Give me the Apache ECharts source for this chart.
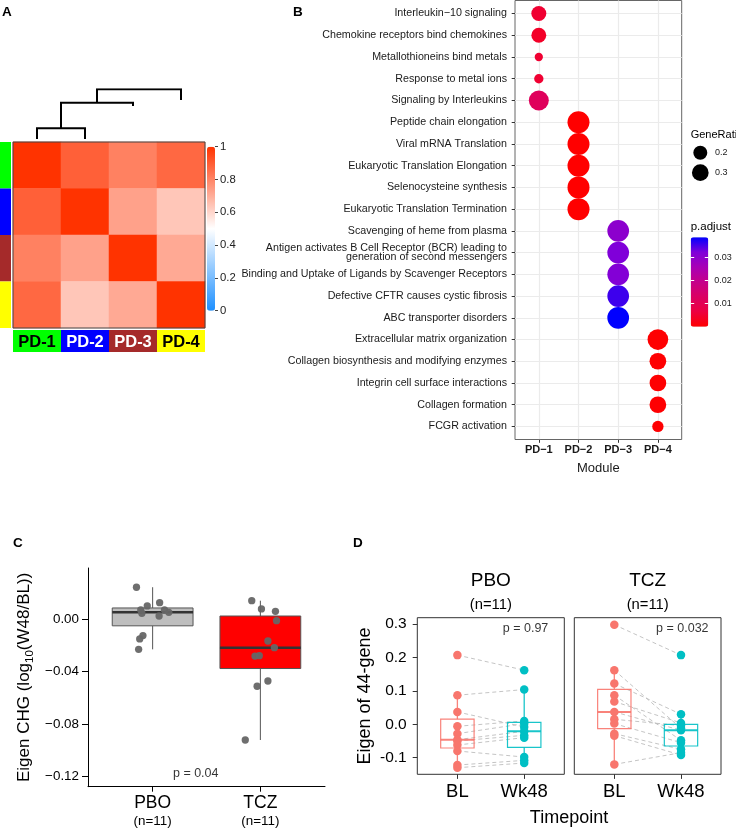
<!DOCTYPE html>
<html><head><meta charset="utf-8">
<script src="https://cdn.jsdelivr.net/npm/echarts@6.0.0/dist/echarts.min.js"></script>
<style>html,body{margin:0;padding:0;background:#fff}#c{width:736px;height:829px}</style>
</head><body><div id="c"></div>
<script>
// ================= DATA =================
// Panel A : module correlation heatmap
const modules = ['PD-1', 'PD-2', 'PD-3', 'PD-4'];
const corrPD1 = [1.00, 0.89, 0.81, 0.87];
const corrPD2 = [0.89, 1.00, 0.73, 0.64];
const corrPD3 = [0.81, 0.73, 1.00, 0.71];
const corrPD4 = [0.87, 0.64, 0.71, 1.00];
const corrTicks = [0, 0.2, 0.4, 0.6, 0.8, 1];
const dendroMerges = [[0, 1], [4, 2], [5, 3]];
const dendroHeights = [0.215, 0.73, 1.0];
const dendroLeafEnds = [0, 0, 0.664, 0.785];

// Panel B : pathway enrichment dot plot
const pathways = [
  'Interleukin\u221210 signaling',
  'Chemokine receptors bind chemokines',
  'Metallothioneins bind metals',
  'Response to metal ions',
  'Signaling by Interleukins',
  'Peptide chain elongation',
  'Viral mRNA Translation',
  'Eukaryotic Translation Elongation',
  'Selenocysteine synthesis',
  'Eukaryotic Translation Termination',
  'Scavenging of heme from plasma',
  'Antigen activates B Cell Receptor (BCR) leading to\ngeneration of second messengers',
  'Binding and Uptake of Ligands by Scavenger Receptors',
  'Defective CFTR causes cystic fibrosis',
  'ABC transporter disorders',
  'Extracellular matrix organization',
  'Collagen biosynthesis and modifying enzymes',
  'Integrin cell surface interactions',
  'Collagen formation',
  'FCGR activation'
];
const pathwayModule = [1,1,1,1,1, 2,2,2,2,2, 3,3,3,3,3, 4,4,4,4,4];
const geneRatio = [0.233,0.228,0.115,0.118,0.473, 0.606,0.606,0.606,0.606,0.606, 0.585,0.585,0.585,0.585,0.585, 0.518,0.300,0.300,0.300,0.139];
const pAdjust = [0.005,0.004,0.005,0.005,0.0115, 0.00001,0.00001,0.00001,0.00001,0.00001, 0.030,0.032,0.0315,0.0354,0.0385, 0.0002,0.0002,0.0002,0.0002,0.0002];
const moduleAxisLabels = ['PD\u22121', 'PD\u22122', 'PD\u22123', 'PD\u22124'];
const geneRatioBreaks = [0.2, 0.3];
const pAdjustBreaks = [0.01, 0.02, 0.03];

// Panel C : Eigen CHG change
const groupsC = ['PBO', 'TCZ'];
const chgPBO = [0.0245, 0.0127, 0.0102, 0.0071, 0.0071, 0.0053, 0.0046, 0.0025, -0.0125, -0.0150, -0.0230];
const jitterPBO = [-0.15, 0.065, -0.05, -0.11, 0.11, 0.15, -0.10, 0.06, -0.09, -0.12, -0.13];
const chgTCZ = [0.0142, 0.0079, 0.0061, -0.0011, -0.0166, -0.0217, -0.0281, -0.0278, -0.0472, -0.0512, -0.0923];
const jitterTCZ = [-0.08, 0.01, 0.14, 0.15, 0.07, 0.13, -0.05, -0.01, 0.07, -0.03, -0.14];
const ticksC = [-0.12, -0.08, -0.04, 0.00];
const pValueC = 'p = 0.04';

// Panel D : 44-gene eigen, paired
const timepoints = ['BL', 'Wk48'];
const eigenPBO_BL   = [0.207, 0.087, 0.037, -0.006, -0.028, -0.046, -0.050, -0.062, -0.080, -0.122, -0.130];
const eigenPBO_Wk48 = [0.162, 0.104, -0.008, 0.010, 0.002, -0.021, -0.033, -0.040, -0.098, -0.108, -0.116];
const eigenTCZ_BL   = [0.298, 0.162, 0.122, 0.087, 0.068, 0.037, 0.015, 0.002, -0.028, -0.034, -0.120];
const eigenTCZ_Wk48 = [0.207, -0.012, 0.030, -0.048, 0.004, -0.018, -0.004, -0.055, -0.075, -0.092, -0.085];
const ticksD = [-0.1, 0.0, 0.1, 0.2, 0.3];
const pValuePBO = 'p = 0.97';
const pValueTCZ = 'p = 0.032';

// ================= STYLE =================
const FONT = "'Liberation Sans', Arial, Helvetica, sans-serif";
const moduleFill = ['#00ff00', '#0000ff', '#a52a2a', '#ffff00'];
const moduleTextColor = ['#000000', '#ffffff', '#ffffff', '#000000'];
const padjColors = ['#ff0000', '#ec0040', '#db0062', '#c5008a', '#a800b5', '#7f00d9', '#0000ff'];
const tpColors = ['#f8766d', '#00bfc4'];
function sizeFn(r) { return 2.76 * (3 + 5 * Math.sqrt(Math.max(0, (r - 0.115) / 0.497))); }

// ================= HELPERS =================
function quantile(s, p) { const h = (s.length - 1) * p, lo = Math.floor(h), hi = Math.ceil(h); return s[lo] + (s[hi] - s[lo]) * (h - lo); }
function boxStats(arr) {
  const s = arr.slice().sort((a, b) => a - b);
  const q1 = quantile(s, 0.25), med = quantile(s, 0.5), q3 = quantile(s, 0.75), iqr = q3 - q1;
  const lo = Math.min.apply(null, s.filter(v => v >= q1 - 1.5 * iqr));
  const hi = Math.max.apply(null, s.filter(v => v <= q3 + 1.5 * iqr));
  return [lo, q1, med, q3, hi];
}
function txt(text, x, y, size, opts) {
  opts = opts || {};
  return { type: 'text', x: 0, y: 0, silent: true, z: 100, style: Object.assign({
    text: text, x: x, y: y, fontSize: size, fontFamily: FONT, fontWeight: opts.bold ? 'bold' : 'normal',
    fill: opts.color || '#000', align: opts.align || 'left', verticalAlign: 'middle',
    textAlign: opts.align || 'left', textVerticalAlign: 'middle' }, {}) };
}
function boxRenderer(boxW, styleFn) {
  return function (params, api) {
    const x = api.value(0);
    const pLo = api.coord([x, api.value(1)]), pQ1 = api.coord([x, api.value(2)]), pMed = api.coord([x, api.value(3)]);
    const pQ3 = api.coord([x, api.value(4)]), pHi = api.coord([x, api.value(5)]);
    const half = api.size([boxW, 0])[0] / 2;
    const s = styleFn(params.dataIndex);
    return { type: 'group', children: [
      { type: 'line', shape: { x1: pQ3[0], y1: pQ3[1], x2: pHi[0], y2: pHi[1] }, style: { stroke: s.whisker, lineWidth: s.ww, opacity: s.op } },
      { type: 'line', shape: { x1: pQ1[0], y1: pQ1[1], x2: pLo[0], y2: pLo[1] }, style: { stroke: s.whisker, lineWidth: s.ww, opacity: s.op } },
      { type: 'rect', shape: { x: pQ3[0] - half, y: pQ3[1], width: 2 * half, height: pQ1[1] - pQ3[1] }, style: { fill: s.fill, stroke: s.stroke, lineWidth: s.bw, strokeOpacity: s.op } },
      { type: 'line', shape: { x1: pMed[0] - half, y1: pMed[1], x2: pMed[0] + half, y2: pMed[1] }, style: { stroke: s.median, lineWidth: s.mw, opacity: s.op } }
    ]};
  };
}

const grid = [], xAxis = [], yAxis = [], series = [], graphic = [];
const addGrid = g => (grid.push(g), grid.length - 1);
const addX = a => (xAxis.push(a), xAxis.length - 1);
const addY = a => (yAxis.push(a), yAxis.length - 1);
const addS = s => (series.push(s), series.length - 1);
const hv = (gi, min, max, extra) => Object.assign({ type: 'value', gridIndex: gi, min: min, max: max, show: false }, extra || {});

// ================= PANEL A =================
const gA = addGrid({ left: 13, top: 142, width: 192, height: 186, show: true, borderColor: '#444', borderWidth: 1, backgroundColor: 'transparent', z: 10 });
const xA = addX({ type: 'category', gridIndex: gA, data: modules, show: false });
const yA = addY({ type: 'category', gridIndex: gA, data: modules, inverse: true, show: false });
const heatData = [];
[corrPD1, corrPD2, corrPD3, corrPD4].forEach((row, r) => row.forEach((v, c) => heatData.push([c, r, v])));
const sHeat = addS({ type: 'heatmap', xAxisIndex: xA, yAxisIndex: yA, data: heatData, itemStyle: { borderWidth: 0 }, emphasis: { disabled: true } });

// dendrogram
const gDen = addGrid({ left: 13, top: 89.3, width: 192, height: 49.7 });
const xDen = addX(hv(gDen, -0.5, 3.5)); const yDen = addY(hv(gDen, 0, 1));
const nodeX = [0, 1, 2, 3], nodeH = dendroLeafEnds.slice(), dendroPaths = [];
dendroMerges.forEach((m, i) => {
  const h = dendroHeights[i], a = m[0], b = m[1];
  dendroPaths.push({ coords: [[nodeX[a], nodeH[a]], [nodeX[a], h], [nodeX[b], h], [nodeX[b], nodeH[b]]] });
  nodeX.push((nodeX[a] + nodeX[b]) / 2); nodeH.push(h);
});
addS({ type: 'lines', coordinateSystem: 'cartesian2d', xAxisIndex: xDen, yAxisIndex: yDen, polyline: true, silent: true,
  data: dendroPaths, lineStyle: { color: '#000', width: 2, opacity: 1 } });

// left row annotation
const gL = addGrid({ left: 0, top: 142, width: 11, height: 186 });
const xL = addX(hv(gL, 0, 1)); const yL = addY(hv(gL, -0.5, 3.5, { inverse: true }));
addS({ type: 'custom', xAxisIndex: xL, yAxisIndex: yL, silent: true, data: modules.map((m, i) => [0.5, i]), encode: { x: 0, y: 1 },
  renderItem: (params, api) => { const i = api.value(1); const p0 = api.coord([0, i - 0.5]), p1 = api.coord([1, i + 0.5]);
    return { type: 'rect', shape: { x: p0[0], y: p0[1], width: p1[0] - p0[0], height: p1[1] - p0[1] }, style: { fill: moduleFill[i] } }; } });

// bottom column annotation with labels
const gBt = addGrid({ left: 13, top: 330, width: 192, height: 22 });
const xBt = addX(hv(gBt, -0.5, 3.5)); const yBt = addY(hv(gBt, 0, 1));
addS({ type: 'custom', xAxisIndex: xBt, yAxisIndex: yBt, silent: true, data: modules.map((m, i) => [i, 0.5]), encode: { x: 0, y: 1 },
  renderItem: (params, api) => { const i = api.value(0); const p0 = api.coord([i - 0.5, 1]), p1 = api.coord([i + 0.5, 0]), pc = api.coord([i, 0.5]);
    return { type: 'group', children: [
      { type: 'rect', shape: { x: p0[0], y: p0[1], width: p1[0] - p0[0], height: p1[1] - p0[1] }, style: { fill: moduleFill[i] } },
      { type: 'text', style: { text: modules[i], x: pc[0], y: pc[1] + 1, fill: moduleTextColor[i], fontSize: 16.5, fontWeight: 'bold', fontFamily: FONT,
        align: 'center', verticalAlign: 'middle', textAlign: 'center', textVerticalAlign: 'middle' } }
    ]}; } });

// colorbar axis A
const gCA = addGrid({ left: 207, top: 146.7, width: 8, height: 164 });
addX(hv(gCA, 0, 1));
addY({ type: 'value', gridIndex: gCA, position: 'right', min: 0, max: 1, interval: 0.2, z: 10,
  axisLine: { show: false, onZero: false }, splitLine: { show: false },
  axisTick: { show: true, inside: false, length: 3, lineStyle: { color: '#444' } },
  axisLabel: { margin: 5, fontSize: 11.3, color: '#222', fontFamily: FONT, formatter: v => (v === 0 ? '0' : v === 1 ? '1' : (+v.toFixed(1)).toString()) } });

// ================= PANEL B =================
const gB = addGrid({ left: 515, top: 0.5, width: 166.7, height: 439, show: true, borderColor: '#666', borderWidth: 1, backgroundColor: '#fff' });
const xB = addX({ type: 'value', gridIndex: gB, min: 0.4, max: 4.6,
  axisLine: { show: false, onZero: false },
  axisTick: { show: true, customValues: moduleAxisLabels.map((m, i) => i + 1), length: 3.3, lineStyle: { color: '#333' } },
  axisLabel: { customValues: moduleAxisLabels.map((m, i) => i + 1), formatter: v => moduleAxisLabels[Math.round(v) - 1], fontSize: 11, fontWeight: 'bold', color: '#1a1a1a', margin: 5, fontFamily: FONT },
  splitLine: { show: true, lineStyle: { color: '#ebebeb', width: 1.2 } },
  name: 'Module', nameLocation: 'middle', nameGap: 22, nameTextStyle: { fontSize: 13, color: '#1a1a1a', fontFamily: FONT } });
const yB = addY({ type: 'value', gridIndex: gB, min: 0.4, max: 20.6, inverse: true,
  axisLine: { show: false, onZero: false },
  axisTick: { show: true, customValues: pathways.map((p, i) => i + 1), length: 3.3, lineStyle: { color: '#333' } },
  axisLabel: { customValues: pathways.map((p, i) => i + 1), formatter: v => pathways[Math.round(v) - 1], fontSize: 10.7, lineHeight: 9.6, color: '#1a1a1a', margin: 8, fontFamily: FONT, align: 'right' },
  splitLine: { show: true, lineStyle: { color: '#ebebeb', width: 1.2 } } });
const sDot = addS({ type: 'scatter', xAxisIndex: xB, yAxisIndex: yB, encode: { x: 0, y: 1 },
  data: pathways.map((p, i) => [pathwayModule[i], i + 1, geneRatio[i], pAdjust[i]]),
  symbolSize: v => sizeFn(v[2]), itemStyle: { opacity: 1 } });

// size legend
const gSL = addGrid({ left: 690.3, top: 152.7, width: 20, height: 20 });
const xSL = addX(hv(gSL, -1, 1)); const ySL = addY(hv(gSL, 0, 1, { inverse: true }));
addS({ type: 'scatter', xAxisIndex: xSL, yAxisIndex: ySL, silent: true, encode: { x: 0, y: 1 },
  data: geneRatioBreaks.map((r, i) => [0, i, r]), symbolSize: v => sizeFn(v[2]), itemStyle: { color: '#000', opacity: 1 },
  label: { show: true, position: 'inside', align: 'left', offset: [14.7, 0], formatter: p => String(p.value[2]), fontSize: 9, color: '#1a1a1a', fontFamily: FONT } });

// p.adjust colorbar axis
const gPA = addGrid({ left: 690.7, top: 237.3, width: 17.6, height: 89.4 });
addX(hv(gPA, 0, 1));
addY({ type: 'value', gridIndex: gPA, position: 'right', min: 0, max: 0.0385, z: 10,
  axisLine: { show: false, onZero: false }, splitLine: { show: false },
  axisTick: { show: true, inside: true, length: 3.5, customValues: pAdjustBreaks, lineStyle: { color: '#fff', width: 1 } },
  axisLabel: { customValues: pAdjustBreaks, formatter: v => v.toFixed(2), fontSize: 9, margin: 6, color: '#1a1a1a', fontFamily: FONT } });
addY({ type: 'value', gridIndex: gPA, position: 'left', min: 0, max: 0.0385, z: 10,
  axisLine: { show: false, onZero: false }, splitLine: { show: false },
  axisTick: { show: true, inside: true, length: 3.5, customValues: pAdjustBreaks, lineStyle: { color: '#fff', width: 1 } },
  axisLabel: { show: false } });

// ================= PANEL C =================
const gC = addGrid({ left: 88, top: 568, width: 237, height: 218.7 });
const nC = [chgPBO.length, chgTCZ.length];
const xC = addX({ type: 'value', gridIndex: gC, min: 0.4, max: 2.6,
  axisLine: { show: true, onZero: false, lineStyle: { color: '#000', width: 1 } },
  axisTick: { show: true, customValues: [1, 2], length: 5, lineStyle: { color: '#000' } },
  axisLabel: { customValues: [1, 2], margin: 7,
    formatter: v => '{a|' + groupsC[Math.round(v) - 1] + '}\n{b|(n=' + nC[Math.round(v) - 1] + ')}',
    rich: { a: { fontSize: 17.5, lineHeight: 18.4, color: '#000', fontFamily: FONT }, b: { fontSize: 13.4, lineHeight: 18.4, color: '#000', fontFamily: FONT } } },
  splitLine: { show: false } });
const yC = addY({ type: 'value', gridIndex: gC, min: -0.128, max: 0.0392,
  axisLine: { show: true, onZero: false, lineStyle: { color: '#000', width: 1 } },
  axisTick: { show: true, customValues: ticksC, length: 6, lineStyle: { color: '#000' } },
  axisLabel: { customValues: ticksC, margin: 9, fontSize: 13.4, color: '#000', fontFamily: FONT,
    formatter: v => (v < -1e-9 ? '\u2212' : '') + Math.abs(v).toFixed(2) },
  splitLine: { show: false },
  name: '{a|Eigen CHG (log}{s|10}{a|(W48/BL))}', nameLocation: 'middle', nameGap: 52,
  nameTextStyle: { fontFamily: FONT, color: '#000', rich: {
    a: { fontSize: 17, lineHeight: 24, verticalAlign: 'middle', color: '#000', fontFamily: FONT },
    s: { fontSize: 11.5, lineHeight: 12, verticalAlign: 'bottom', color: '#000', fontFamily: FONT } } } });
const cFills = ['#bebebe', '#ff0000'];
addS({ type: 'custom', xAxisIndex: xC, yAxisIndex: yC, silent: true, encode: { x: 0, y: [1, 2, 3, 4, 5] },
  data: [[1].concat(boxStats(chgPBO)), [2].concat(boxStats(chgTCZ))],
  renderItem: boxRenderer(0.75, i => ({ fill: cFills[i], stroke: '#555', bw: 1, whisker: '#555', ww: 1, median: '#333', mw: 2.5, op: 1 })) });
addS({ type: 'scatter', xAxisIndex: xC, yAxisIndex: yC, silent: true, symbolSize: 7.3, itemStyle: { color: '#666', opacity: 0.95 },
  data: chgPBO.map((v, i) => [1 + jitterPBO[i], v]).concat(chgTCZ.map((v, i) => [2 + jitterTCZ[i], v])), z: 5 });
addS({ type: 'scatter', xAxisIndex: xC, yAxisIndex: yC, silent: true, symbolSize: 1, itemStyle: { color: 'transparent' },
  data: [[1.4, -0.118]], label: { show: true, position: 'inside', formatter: pValueC, fontSize: 12.5, color: '#000', fontFamily: FONT } });

// ================= PANEL D =================
function facetD(left, width, bl, wk, pText, showY) {
  const g = addGrid({ left: left, top: 617.7, width: width, height: 156.6, show: true, borderColor: '#333', borderWidth: 1, backgroundColor: 'transparent' });
  const x = addX({ type: 'value', gridIndex: g, min: -0.6, max: 1.6,
    axisLine: { show: false, onZero: false },
    axisTick: { show: true, customValues: [0, 1], length: 4.6, lineStyle: { color: '#333' } },
    axisLabel: { customValues: [0, 1], formatter: v => timepoints[Math.round(v)], fontSize: 18.5, color: '#000', margin: 8, fontFamily: FONT },
    splitLine: { show: false } });
  const yOpt = { type: 'value', gridIndex: g, min: -0.1497, max: 0.319, axisLine: { show: false, onZero: false }, splitLine: { show: false } };
  if (showY) {
    Object.assign(yOpt, {
      axisTick: { show: true, customValues: ticksD, length: 4.6, lineStyle: { color: '#333' } },
      axisLabel: { customValues: ticksD, formatter: v => (Math.abs(v) < 1e-9 ? '0.0' : v.toFixed(1)), fontSize: 15.5, color: '#000', margin: 10.6, fontFamily: FONT },
      name: 'Eigen of 44-gene', nameLocation: 'middle', nameGap: 43, nameTextStyle: { fontSize: 18, color: '#000', fontFamily: FONT } });
  } else {
    Object.assign(yOpt, { axisTick: { show: false }, axisLabel: { show: false } });
  }
  const y = addY(yOpt);
  addS({ type: 'lines', coordinateSystem: 'cartesian2d', xAxisIndex: x, yAxisIndex: y, silent: true,
    data: bl.map((b, i) => ({ coords: [[0, b], [1, wk[i]]] })),
    lineStyle: { color: '#bdbdbd', width: 0.9, type: [4, 3], opacity: 1 } });
  addS({ type: 'custom', xAxisIndex: x, yAxisIndex: y, silent: true, encode: { x: 0, y: [1, 2, 3, 4, 5] },
    data: [[0].concat(boxStats(bl)), [1].concat(boxStats(wk))],
    renderItem: boxRenderer(0.5, i => ({ fill: 'transparent', stroke: tpColors[i], bw: 1.2, whisker: tpColors[i], ww: 1.3, median: tpColors[i], mw: 2, op: 0.9 })) });
  [bl, wk].forEach((arr, k) => addS({ type: 'scatter', xAxisIndex: x, yAxisIndex: y, silent: true, symbolSize: 8.5,
    itemStyle: { color: tpColors[k], opacity: 1 }, data: arr.map(v => [k, v]), z: 5 }));
  addS({ type: 'scatter', xAxisIndex: x, yAxisIndex: y, silent: true, symbolSize: 1, itemStyle: { color: 'transparent' },
    data: [[1.02, 0.287]], label: { show: true, position: 'inside', formatter: pText, fontSize: 12.5, color: '#000', fontFamily: FONT } });
}
facetD(417.3, 147, eigenPBO_BL, eigenPBO_Wk48, pValuePBO, true);
facetD(574.3, 146.7, eigenTCZ_BL, eigenTCZ_Wk48, pValueTCZ, false);

// ================= TEXT =================
graphic.push(txt('A', 2, 12.5, 13.5, { bold: true }));
graphic.push(txt('B', 293, 12.5, 13.5, { bold: true }));
graphic.push(txt('C', 13, 543.5, 13.5, { bold: true }));
graphic.push(txt('D', 353, 543.5, 13.5, { bold: true }));
graphic.push(txt('GeneRatio', 690.7, 135, 11));
graphic.push(txt('p.adjust', 690.7, 227.3, 11.5));
graphic.push(txt('Timepoint', 569, 818.3, 18, { align: 'center' }));
[[490.8, groupsC[0], eigenPBO_BL.length], [647.7, groupsC[1], eigenTCZ_BL.length]].forEach(f => {
  graphic.push(txt(f[1], f[0], 580.5, 19, { align: 'center' }));
  graphic.push(txt('(n=' + f[2] + ')', f[0], 605, 14.8, { align: 'center' }));
});

const chart = echarts.init(document.getElementById('c'));
chart.setOption({
  animation: false,
  backgroundColor: '#fff',
  textStyle: { fontFamily: FONT },
  grid: grid, xAxis: xAxis, yAxis: yAxis, series: series,
  visualMap: [
    { type: 'continuous', seriesIndex: sHeat, dimension: 2, min: 0, max: 1, inRange: { color: ['#1e90ff', '#ffffff', '#ff3300'] },
      left: 207, top: 146.7, itemWidth: 8, itemHeight: 164, calculable: false, padding: 0, orient: 'vertical', hoverLink: false },
    { type: 'continuous', seriesIndex: sDot, dimension: 3, min: 0, max: 0.0385, inRange: { color: padjColors },
      left: 690.7, top: 237.3, itemWidth: 17.6, itemHeight: 89.4, calculable: false, padding: 0, orient: 'vertical', hoverLink: false }
  ],
  graphic: graphic
});
</script></body></html>
